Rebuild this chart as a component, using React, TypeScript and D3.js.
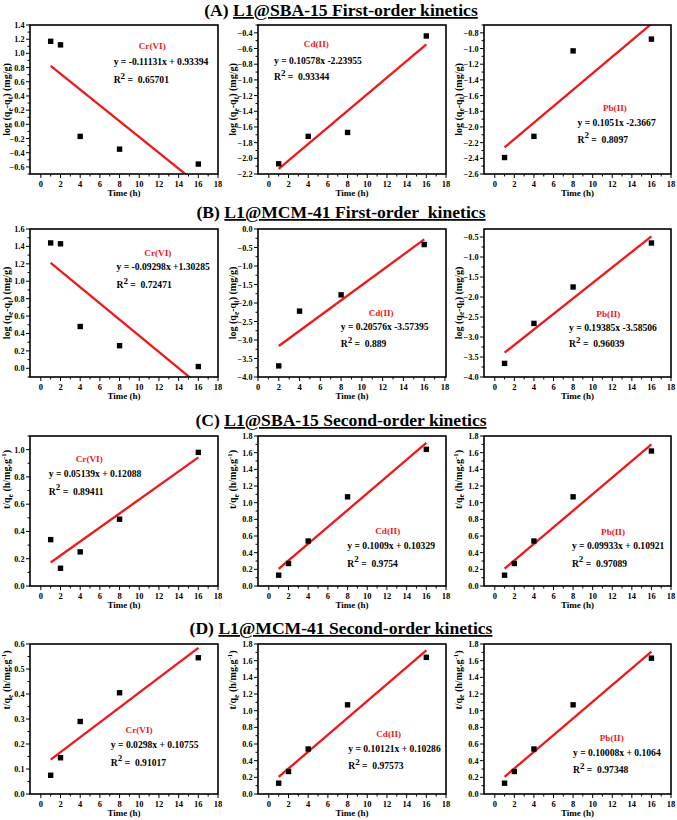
import * as d3 from 'd3';

const FONT = '"Liberation Serif", "Times New Roman", serif';
const RED = '#f01818';

const metals = ['Cr(VI)', 'Cd(II)', 'Pb(II)'];

const timeAll = [1, 2, 4, 8, 16];
const timeSkip2 = [1, 4, 8, 16];
const timeFrom2 = [2, 4, 8, 16];

// (A) L1@SBA-15 first-order: log(qe - qt)
const sbaFirstCr = [1.17, 1.12, -0.17, -0.35, -0.56];
const sbaFirstCd = [-2.07, -1.72, -1.67, -0.44];
const sbaFirstPb = [-2.39, -2.12, -1.03, -0.88];
const sbaFirstFit = [[-0.11131, 0.93394], [0.10578, -2.23955], [0.1051, -2.3667]];
const sbaFirstEq = ['y = -0.11131x + 0.93394', 'y = 0.10578x -2.23955', 'y = 0.1051x -2.3667'];
const sbaFirstR2 = ['0.65701', '0.93344', '0.8097'];

// (B) L1@MCM-41 first-order
const mcmFirstCr = [1.44, 1.43, 0.48, 0.26, 0.02];
const mcmFirstCd = [-3.7, -2.22, -1.78, -0.42];
const mcmFirstPb = [-3.66, -2.66, -1.75, -0.65];
const mcmFirstFit = [[-0.09298, 1.30285], [0.20576, -3.57395], [0.19385, -3.58506]];
const mcmFirstEq = ['y = -0.09298x +1.30285', 'y = 0.20576x -3.57395', 'y = 0.19385x -3.58506'];
const mcmFirstR2 = ['0.72471', '0.889', '0.96039'];

// (C) L1@SBA-15 second-order: t/qt
const sbaSecondCr = [0.34, 0.13, 0.25, 0.49, 0.98];
const sbaSecondCd = [0.13, 0.27, 0.54, 1.07, 1.64];
const sbaSecondPb = [0.13, 0.27, 0.54, 1.07, 1.62];
const sbaSecondFit = [[0.05139, 0.12088], [0.1009, 0.10329], [0.09933, 0.10921]];
const sbaSecondEq = ['y = 0.05139x + 0.12088', 'y = 0.1009x + 0.10329', 'y = 0.09933x + 0.10921'];
const sbaSecondR2 = ['0.89411', '0.9754', '0.97089'];

// (D) L1@MCM-41 second-order
const mcmSecondCr = [0.075, 0.145, 0.29, 0.405, 0.545];
const mcmSecondCd = [0.13, 0.27, 0.54, 1.07, 1.64];
const mcmSecondPb = [0.13, 0.27, 0.54, 1.07, 1.63];
const mcmSecondFit = [[0.0298, 0.10755], [0.10121, 0.10286], [0.10008, 0.1064]];
const mcmSecondEq = ['y = 0.0298x + 0.10755', 'y = 0.10121x + 0.10286', 'y = 0.10008x + 0.1064'];
const mcmSecondR2 = ['0.91017', '0.97573', '0.97348'];

const rowTitles = [
  ['(A)', 'L1@SBA-15 First-order kinetics'],
  ['(B)', 'L1@MCM-41 First-order\u00a0 kinetics'],
  ['(C)', 'L1@SBA-15 Second-order kinetics'],
  ['(D)', 'L1@MCM-41 Second-order kinetics'],
];

type PanelSpec = {
  xs: number[];
  ys: number[];
  fit: number[];
  eq: string;
  r2: string;
  yDomain: [number, number];
  yStep: number;
  xDomain?: [number, number];
  // annotation anchors as fractions of the plot box: [labelX, labelY, eqX, eqY, r2Y]
  ann: number[];
};

const rows: { kind: 'first' | 'second'; panels: PanelSpec[] }[] = [
  {
    kind: 'first',
    panels: [
      { xs: timeAll, ys: sbaFirstCr, fit: sbaFirstFit[0], eq: sbaFirstEq[0], r2: sbaFirstR2[0], yDomain: [-0.7, 1.4], yStep: 0.2, ann: [0.65, 0.16, 0.445, 0.27, 0.39] },
      { xs: timeSkip2, ys: sbaFirstCd, fit: sbaFirstFit[1], eq: sbaFirstEq[1], r2: sbaFirstR2[1], yDomain: [-2.2, -0.3], yStep: 0.2, ann: [0.31, 0.15, 0.085, 0.26, 0.37] },
      { xs: timeSkip2, ys: sbaFirstPb, fit: sbaFirstFit[2], eq: sbaFirstEq[2], r2: sbaFirstR2[2], yDomain: [-2.6, -0.7], yStep: 0.2, ann: [0.70, 0.58, 0.50, 0.68, 0.79] },
    ],
  },
  {
    kind: 'first',
    panels: [
      { xs: timeAll, ys: mcmFirstCr, fit: mcmFirstFit[0], eq: mcmFirstEq[0], r2: mcmFirstR2[0], yDomain: [-0.1, 1.6], yStep: 0.2, ann: [0.68, 0.18, 0.46, 0.28, 0.40] },
      { xs: timeFrom2, ys: mcmFirstCd, fit: mcmFirstFit[1], eq: mcmFirstEq[1], r2: mcmFirstR2[1], yDomain: [-4, 0], yStep: 0.5, xDomain: [0, 18.1], ann: [0.655, 0.585, 0.44, 0.685, 0.80] },
      { xs: timeSkip2, ys: mcmFirstPb, fit: mcmFirstFit[2], eq: mcmFirstEq[2], r2: mcmFirstR2[2], yDomain: [-4, -0.3], yStep: 0.5, ann: [0.665, 0.595, 0.455, 0.69, 0.80] },
    ],
  },
  {
    kind: 'second',
    panels: [
      { xs: timeAll, ys: sbaSecondCr, fit: sbaSecondFit[0], eq: sbaSecondEq[0], r2: sbaSecondR2[0], yDomain: [0, 1.1], yStep: 0.2, ann: [0.315, 0.17, 0.10, 0.275, 0.39] },
      { xs: timeAll, ys: sbaSecondCd, fit: sbaSecondFit[1], eq: sbaSecondEq[1], r2: sbaSecondR2[1], yDomain: [0, 1.8], yStep: 0.2, ann: [0.69, 0.655, 0.475, 0.755, 0.87] },
      { xs: timeAll, ys: sbaSecondPb, fit: sbaSecondFit[2], eq: sbaSecondEq[2], r2: sbaSecondR2[2], yDomain: [0, 1.8], yStep: 0.2, ann: [0.69, 0.66, 0.47, 0.755, 0.87] },
    ],
  },
  {
    kind: 'second',
    panels: [
      { xs: timeAll, ys: mcmSecondCr, fit: mcmSecondFit[0], eq: mcmSecondEq[0], r2: mcmSecondR2[0], yDomain: [0, 0.6], yStep: 0.1, ann: [0.58, 0.59, 0.43, 0.69, 0.81] },
      { xs: timeAll, ys: mcmSecondCd, fit: mcmSecondFit[1], eq: mcmSecondEq[1], r2: mcmSecondR2[1], yDomain: [0, 1.8], yStep: 0.2, ann: [0.695, 0.62, 0.48, 0.72, 0.835] },
      { xs: timeAll, ys: mcmSecondPb, fit: mcmSecondFit[2], eq: mcmSecondEq[2], r2: mcmSecondR2[2], yDomain: [0, 1.8], yStep: 0.2, ann: [0.683, 0.647, 0.476, 0.747, 0.86] },
    ],
  },
];

// plot box layout
const colX = [[30, 218], [258, 446], [484, 671]];
const rowY = [[25, 174], [229, 377], [436, 586], [644, 794]];
const titleBase = [16, 218, 426, 634];
// y-axis title baseline offset left of the box, per column
const yLabelGap = [20, 22, 22.5];
// vertical centre of the y-axis title, measured from the box top
const yLabelMid = [0.5, 0.5, 0.29, 0.24];

function stepTicks(lo: number, hi: number, step: number) {
  const out: number[] = [];
  const i0 = Math.ceil(lo / step - 1e-6);
  const i1 = Math.floor(hi / step + 1e-6);
  for (let i = i0; i <= i1; i++) out.push(+(i * step).toFixed(4));
  return out;
}

function YLabel({ kind, x, y }: { kind: 'first' | 'second'; x: number; y: number }) {
  const common = { fontFamily: FONT, fontWeight: 700, fontSize: 10, textAnchor: 'middle' as const };
  if (kind === 'first') {
    return (
      <text {...common} transform={`translate(${x},${y}) rotate(-90)`}>
        log (q<tspan fontSize={7.5} dy={2.5}>e</tspan>
        <tspan dy={-2.5}>-q</tspan>
        <tspan fontSize={7.5} dy={2.5}>t</tspan>
        <tspan dy={-2.5}>) (mg/g)</tspan>
      </text>
    );
  }
  return (
    <text {...common} transform={`translate(${x},${y}) rotate(-90)`}>
      t/q<tspan fontSize={7.5} dy={2.5}>e</tspan>
      <tspan dy={-2.5}> (h/mg.g</tspan>
      <tspan fontSize={7} dy={-4}>-1</tspan>
      <tspan dy={4}>)</tspan>
    </text>
  );
}

function Panel({ spec, kind, row, col }: { spec: PanelSpec; kind: 'first' | 'second'; row: number; col: number }) {
  const [x0, x1] = colX[col];
  const [y0, y1] = rowY[row];
  const w = x1 - x0;
  const h = y1 - y0;
  const x = d3.scaleLinear().domain(spec.xDomain ?? [-1.1, 18]).range([x0, x1]);
  const y = d3.scaleLinear().domain(spec.yDomain).range([y1, y0]);
  const fmt = d3.format('.1f');

  const xMajor = d3.range(0, 19, 2);
  const xMinor = d3.range(1, 18, 2);
  const yMajor = stepTicks(spec.yDomain[0], spec.yDomain[1], spec.yStep);
  const yMinor = stepTicks(spec.yDomain[0], spec.yDomain[1], spec.yStep / 2).filter(
    (v) => !yMajor.some((m) => Math.abs(m - v) < 1e-6)
  );

  const [slope, intercept] = spec.fit;
  const xa = spec.xs[0];
  const xb = spec.xs[spec.xs.length - 1];
  const clipId = `clip-${row}-${col}`;
  const [lx, ly, ex, ey, ry] = spec.ann;
  const txt = { fontFamily: FONT, fontWeight: 700 };

  return (
    <g>
      <clipPath id={clipId}>
        <rect x={x0} y={y0} width={w} height={h} />
      </clipPath>
      <line
        clipPath={`url(#${clipId})`}
        x1={x(xa)}
        y1={y(slope * xa + intercept)}
        x2={x(xb)}
        y2={y(slope * xb + intercept)}
        stroke={RED}
        strokeWidth={2.3}
      />
      {spec.xs.map((t, i) => (
        <rect key={i} x={x(t) - 2.7} y={y(spec.ys[i]) - 2.7} width={5.4} height={5.4} fill="#000" />
      ))}
      <rect x={x0} y={y0} width={w} height={h} fill="none" stroke="#000" strokeWidth={1.6} />

      {xMajor.map((t) => (
        <g key={`xm${t}`}>
          <line x1={x(t)} x2={x(t)} y1={y1} y2={y1 + 4} stroke="#000" strokeWidth={1} />
          <text {...txt} x={x(t)} y={y1 + 12.5} fontSize={8.5} textAnchor="middle">{t}</text>
        </g>
      ))}
      {xMinor.map((t) => (
        <line key={`xn${t}`} x1={x(t)} x2={x(t)} y1={y1} y2={y1 + 2.5} stroke="#000" strokeWidth={1} />
      ))}
      {yMajor.map((v) => (
        <g key={`ym${v}`}>
          <line x1={x0 - 4} x2={x0} y1={y(v)} y2={y(v)} stroke="#000" strokeWidth={1} />
          <text {...txt} x={x0 - 5.5} y={y(v) + 3} fontSize={8.2} textAnchor="end">{fmt(v)}</text>
        </g>
      ))}
      {yMinor.map((v) => (
        <line key={`yn${v}`} x1={x0 - 2.5} x2={x0} y1={y(v)} y2={y(v)} stroke="#000" strokeWidth={1} />
      ))}

      <text {...txt} x={(x0 + x1) / 2} y={y1 + 22} fontSize={9} textAnchor="middle">Time (h)</text>
      <YLabel kind={kind} x={x0 - yLabelGap[col]} y={y0 + yLabelMid[row] * h} />

      <text {...txt} x={x0 + lx * w} y={y0 + ly * h} fontSize={9.2} fill={RED} textAnchor="middle">
        {metals[col]}
      </text>
      <text {...txt} x={x0 + ex * w} y={y0 + ey * h} fontSize={9.6}>{spec.eq}</text>
      <text {...txt} x={x0 + ex * w} y={y0 + ry * h} fontSize={9.6} style={{ whiteSpace: 'pre' }}>
        R<tspan fontSize={9} dy={-4.5}>2</tspan>
        <tspan dy={4.5}>{' =  ' + spec.r2}</tspan>
      </text>
    </g>
  );
}

export default function App() {
  return (
    <svg
      width={677}
      height={820}
      style={{ position: 'absolute', left: 0, top: 0, background: '#fff' }}
    >
      <rect width={677} height={820} fill="#fff" />
      {rowTitles.map(([tag, title], r) => (
        <text
          key={r}
          x={341}
          y={titleBase[r]}
          fontFamily={FONT}
          fontWeight={700}
          fontSize={17.6}
          textAnchor="middle"
        >
          {tag + ' '}
          <tspan textDecoration="underline" style={{ textDecoration: 'underline' }}>{title}</tspan>
        </text>
      ))}
      {rows.map((row, r) =>
        row.panels.map((spec, c) => <Panel key={`${r}-${c}`} spec={spec} kind={row.kind} row={r} col={c} />)
      )}
    </svg>
  );
}
